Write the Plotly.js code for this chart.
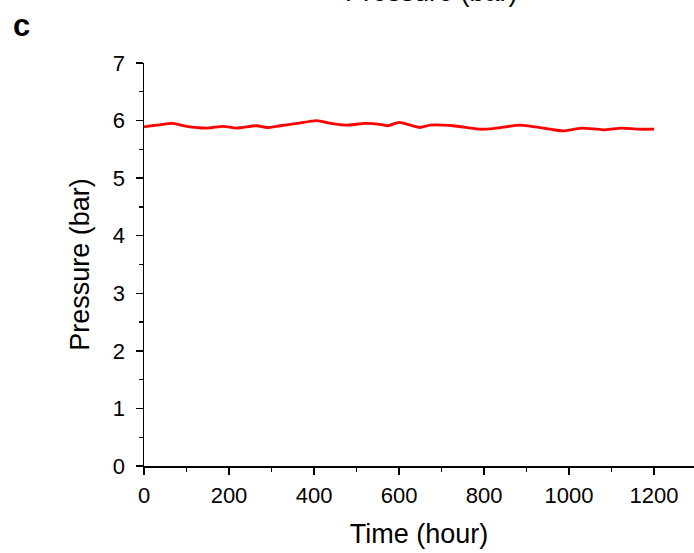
<!DOCTYPE html>
<html>
<head>
<meta charset="utf-8">
<script src="https://cdn.plot.ly/plotly-3.0.1.min.js"></script>
<style>html,body{margin:0;padding:0;background:#fff;}#chart{width:694px;height:553px;}</style>
</head>
<body>
<div id="chart"></div>
<script>
const timeHours = [0, 30, 68, 100, 148, 186, 218, 265, 289, 320, 360, 406, 440, 473, 520, 550, 574, 600, 637, 649, 673, 727, 790, 821, 885, 955, 986, 1030, 1080, 1124, 1162, 1200];
const pressureBar = [5.89, 5.92, 5.95, 5.90, 5.87, 5.90, 5.87, 5.91, 5.88, 5.91, 5.95, 6.00, 5.95, 5.92, 5.95, 5.94, 5.91, 5.97, 5.90, 5.88, 5.92, 5.91, 5.85, 5.86, 5.92, 5.85, 5.82, 5.87, 5.84, 5.87, 5.85, 5.85];
const xTicks = [0, 200, 400, 600, 800, 1000, 1200];
const yTicks = [0, 1, 2, 3, 4, 5, 6, 7];

const font = 'Liberation Sans, Arial, sans-serif';

const trace = {
  x: timeHours, y: pressureBar, type: 'scatter', mode: 'lines',
  line: {color: '#ff0000', width: 2.8, shape: 'spline', smoothing: 0.6},
  hoverinfo: 'skip'
};

const layout = {
  width: 694, height: 553,
  margin: {l: 144, r: 0, t: 63, b: 87},
  paper_bgcolor: '#ffffff', plot_bgcolor: '#ffffff',
  showlegend: false,
  font: {family: font, color: '#000', size: 22},
  xaxis: {
    range: [0, 1294], tickvals: xTicks, ticktext: xTicks.map(String),
    ticks: 'outside', ticklen: 7, tickwidth: 1.3, tickcolor: '#000',
    minor: {tickvals: [100, 300, 500, 700, 900, 1100], ticks: 'outside', ticklen: 4, tickwidth: 1.3, tickcolor: '#000'},
    showline: true, linecolor: '#000', linewidth: 1.5,
    showgrid: false, zeroline: false,
    tickfont: {size: 22, family: font},
    ticklabelstandoff: 2,
    title: {text: 'Time (hour)', font: {size: 27, family: font}, standoff: 17}
  },
  yaxis: {
    range: [0, 7], tickvals: yTicks, ticktext: yTicks.map(String),
    ticks: 'outside', ticklen: 7, tickwidth: 1.3, tickcolor: '#000',
    minor: {tickvals: [0.5, 1.5, 2.5, 3.5, 4.5, 5.5, 6.5], ticks: 'outside', ticklen: 4, tickwidth: 1.3, tickcolor: '#000'},
    showline: true, linecolor: '#000', linewidth: 1.5,
    showgrid: false, zeroline: false,
    tickfont: {size: 22, family: font},
    ticklabelstandoff: 6,
    title: {text: 'Pressure (bar)', font: {size: 27, family: font}, standoff: 15}
  },
  annotations: [
    {text: '<b>c</b>', xref: 'paper', yref: 'paper', x: -0.222, y: 1.094, xanchor: 'center', yanchor: 'middle',
     showarrow: false, font: {size: 31, family: font, color: '#000'}},
    {text: 'Pressure (bar)', xref: 'paper', yref: 'paper', x: 0.522, y: 1.1765, xanchor: 'center', yanchor: 'middle',
     showarrow: false, font: {size: 27, family: font, color: '#000'}}
  ]
};

Plotly.newPlot('chart', [trace], layout, {displayModeBar: false, staticPlot: true});
</script>
</body>
</html>
